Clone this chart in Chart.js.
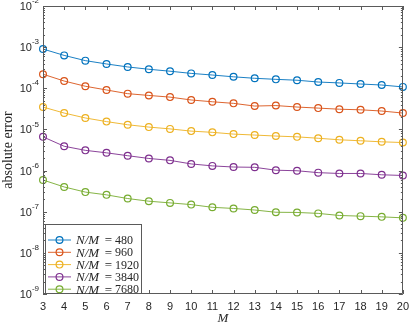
<!DOCTYPE html>
<html>
<head>
<meta charset="utf-8">
<script src="https://cdn.jsdelivr.net/npm/chart.js@4.4.0/dist/chart.umd.min.js"></script>
<style>
  html, body { margin: 0; padding: 0; background: #fff; }
  #wrap { width: 415px; height: 326px; }
</style>
</head>
<body>
<div id="wrap"><canvas id="chart" width="415" height="326"></canvas></div>
<script>
"use strict";

// x values (M)
const mValues = [3, 4, 5, 6, 7, 8, 9, 10, 11, 12, 13, 14, 15, 16, 17, 18, 19, 20];
// N/M for each series
const ratioLabels = ["480", "960", "1920", "3840", "7680"];
// absolute error
const err480 = [9.0e-4, 6.3e-4, 4.7e-4, 3.9e-4, 3.3e-4, 2.9e-4, 2.6e-4, 2.3e-4, 2.1e-4,
                1.9e-4, 1.75e-4, 1.65e-4, 1.57e-4, 1.42e-4, 1.35e-4, 1.27e-4, 1.2e-4, 1.08e-4];
const err960 = [2.2e-4, 1.5e-4, 1.12e-4, 9.1e-5, 7.4e-5, 6.7e-5, 6.1e-5, 5.2e-5, 4.7e-5,
                4.3e-5, 3.7e-5, 3.8e-5, 3.5e-5, 3.3e-5, 3.1e-5, 3.0e-5, 2.8e-5, 2.5e-5];
const err1920 = [3.5e-5, 2.5e-5, 1.9e-5, 1.55e-5, 1.3e-5, 1.14e-5, 1.03e-5, 9.1e-6, 8.5e-6,
                 7.7e-6, 7.3e-6, 6.9e-6, 6.6e-6, 6.1e-6, 5.6e-6, 5.3e-6, 5.0e-6, 4.8e-6];
const err3840 = [6.6e-6, 3.9e-6, 3.1e-6, 2.7e-6, 2.3e-6, 1.97e-6, 1.77e-6, 1.45e-6, 1.3e-6,
                 1.22e-6, 1.2e-6, 1.02e-6, 9.9e-7, 8.9e-7, 8.5e-7, 8.5e-7, 7.9e-7, 7.6e-7];
const err7680 = [5.9e-7, 4.0e-7, 3.0e-7, 2.57e-7, 2.09e-7, 1.8e-7, 1.64e-7, 1.49e-7, 1.28e-7,
                 1.2e-7, 1.1e-7, 9.7e-8, 9.6e-8, 9.1e-8, 8.1e-8, 7.8e-8, 7.5e-8, 7.1e-8];
// decades shown on the y axis (exponents)
const yDecades = [-9, -8, -7, -6, -5, -4, -3, -2];

const seriesErr = [err480, err960, err1920, err3840, err7680];
const colors = ["#0072BD", "#D95319", "#EDB120", "#7E2F8E", "#77AC30"];

const AXIS = "#262626";
const BOX = "#5a5a5a";
const SANS = "'Liberation Sans', Arial, sans-serif";
const SERIF = "'Liberation Serif', 'DejaVu Serif', serif";

const datasets = seriesErr.map(function (arr, i) {
    return {
        label: ratioLabels[i],
        data: mValues.map(function (m, k) { return { x: m, y: arr[k] }; }),
        borderColor: colors[i],
        backgroundColor: "rgba(0,0,0,0)",
        borderWidth: 0.9,
        pointRadius: 3.4,
        pointBorderWidth: 1.2,
        pointBackgroundColor: "rgba(0,0,0,0)",
        pointBorderColor: colors[i],
        tension: 0,
        clip: false
    };
});

// box, inward ticks, y labels, axis titles and legend
const matlabAxes = {
    id: "matlabAxes",
    afterDraw(chart) {
        const ctx = chart.ctx;
        const a = chart.chartArea;
        const x = chart.scales.x, y = chart.scales.y;
        ctx.save();
        ctx.strokeStyle = BOX;
        ctx.lineWidth = 1;
        ctx.beginPath();
        ctx.rect(Math.round(a.left) + 0.5, Math.round(a.top) + 0.5,
                 Math.round(a.right - a.left) - 1, Math.round(a.bottom - a.top) - 1);
        ctx.stroke();

        // x ticks
        ctx.beginPath();
        mValues.forEach(function (m) {
            const px = Math.round(x.getPixelForValue(m)) + 0.5;
            ctx.moveTo(px, a.bottom); ctx.lineTo(px, a.bottom - 4);
            ctx.moveTo(px, a.top); ctx.lineTo(px, a.top + 4);
        });
        // y ticks (major + minor)
        for (let e = yDecades[0]; e <= yDecades[yDecades.length - 1]; e++) {
            for (let k = 1; k <= 9; k++) {
                if (e === yDecades[yDecades.length - 1] && k > 1) break;
                const py = Math.round(y.getPixelForValue(k * Math.pow(10, e))) + 0.5;
                const len = k === 1 ? 4 : 2;
                ctx.moveTo(a.left, py); ctx.lineTo(a.left + len, py);
                ctx.moveTo(a.right, py); ctx.lineTo(a.right - len, py);
            }
        }
        ctx.stroke();

        // y tick labels 10^e
        ctx.fillStyle = AXIS;
        ctx.textBaseline = "middle";
        yDecades.forEach(function (e) {
            const py = y.getPixelForValue(Math.pow(10, e));
            const sup = String(e);
            ctx.font = "8px " + SANS;
            const sw = ctx.measureText(sup).width;
            const supRight = a.left - 4;
            ctx.textAlign = "right";
            ctx.fillText(sup, supRight, py - 5);
            ctx.font = "11px " + SANS;
            ctx.fillText("10", supRight - sw, py + 1);
        });

        // axis titles
        ctx.font = "italic 13px " + SERIF;
        ctx.textAlign = "center";
        ctx.textBaseline = "alphabetic";
        ctx.fillText("M", (a.left + a.right) / 2, 322);
        ctx.save();
        ctx.translate(12, (a.top + a.bottom) / 2);
        ctx.rotate(-Math.PI / 2);
        ctx.font = "14px " + SERIF;
        ctx.fillText("absolute error", 0, 0);
        ctx.restore();

        // legend
        const lx = a.left + 2, ly = 224, lw = 96, lh = 69;
        ctx.fillStyle = "#fff";
        ctx.fillRect(lx, ly, lw, lh);
        ctx.strokeStyle = BOX;
        ctx.lineWidth = 1;
        ctx.strokeRect(lx + 0.5, ly + 0.5, lw, lh);
        chart.data.datasets.forEach(function (ds, i) {
            const ry = ly + 16 + i * 12.3;
            ctx.strokeStyle = ds.borderColor;
            ctx.lineWidth = 0.9;
            ctx.beginPath();
            ctx.moveTo(lx + 3, ry); ctx.lineTo(lx + 26, ry);
            ctx.stroke();
            ctx.lineWidth = 1.2;
            ctx.beginPath();
            ctx.arc(lx + 14.5, ry, 3.4, 0, Math.PI * 2);
            ctx.stroke();
            ctx.fillStyle = AXIS;
            ctx.textBaseline = "middle";
            ctx.textAlign = "left";
            ctx.font = "italic 13px " + SERIF;
            ctx.fillText("N/M", lx + 31, ry + 1);
            ctx.font = "13px " + SERIF;
            ctx.textAlign = "center";
            ctx.fillText("=", lx + 63.5, ry + 1);
            ctx.font = "12px " + SERIF;
            ctx.textAlign = "left";
            ctx.fillText(ds.label, lx + 70, ry + 1);
        });
        ctx.restore();
    }
};

const ctx = document.getElementById("chart");
new Chart(ctx, {
    type: "line",
    data: { datasets: datasets },
    options: {
        responsive: false,
        animation: false,
        devicePixelRatio: 1,
        layout: { autoPadding: false, padding: { top: 6, right: 7, left: 0, bottom: 0 } },
        plugins: { legend: { display: false }, tooltip: { enabled: false } },
        scales: {
            x: {
                type: "linear",
                min: 3,
                max: 20,
                grid: { display: false, drawTicks: false },
                border: { display: false },
                ticks: {
                    stepSize: 1,
                    padding: 6,
                    color: AXIS,
                    font: { family: SANS, size: 11 },
                    maxRotation: 0,
                    autoSkip: false
                },
                afterFit: function (s) { s.height = 32; }
            },
            y: {
                type: "logarithmic",
                min: 1e-9,
                max: 1e-2,
                grid: { display: false, drawTicks: false },
                border: { display: false },
                ticks: { display: false },
                afterFit: function (s) { s.width = 43; }
            }
        }
    },
    plugins: [matlabAxes]
});
</script>
</body>
</html>
